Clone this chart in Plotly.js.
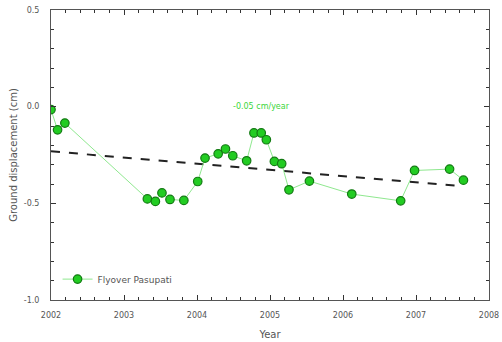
<!DOCTYPE html>
<html>
<head>
<meta charset="utf-8">
<script src="https://cdn.plot.ly/plotly-3.0.1.min.js"></script>
<style>html,body{margin:0;padding:0;background:#fff;}#chart{width:502px;height:342px;}</style>
</head>
<body>
<div id="chart"></div>
<script>
const years = [2002.00, 2002.09, 2002.19, 2003.32, 2003.43, 2003.52, 2003.63, 2003.82, 2004.01, 2004.11,
  2004.29, 2004.39, 2004.49, 2004.68, 2004.78, 2004.88, 2004.95, 2005.06, 2005.16, 2005.26,
  2005.54, 2006.12, 2006.79, 2006.98, 2007.46, 2007.65];
const displacement = [-0.015, -0.12, -0.085, -0.477, -0.49, -0.446, -0.48, -0.485, -0.387, -0.266,
  -0.244, -0.219, -0.254, -0.28, -0.136, -0.136, -0.171, -0.283, -0.295, -0.43,
  -0.385, -0.452, -0.487, -0.33, -0.323, -0.38];
const trendYears = [2002.0, 2007.59];
const trendValues = [-0.231, -0.41];
const seriesName = 'Flyover Pasupati';
const rateLabel = '-0.05 cm/year';
const xTicks = [2002, 2003, 2004, 2005, 2006, 2007, 2008];
const yTicks = [0.5, 0.0, -0.5, -1.0];
const yTickText = ['0.5', '0.0', '-0.5', '-1.0'];

const traces = [
  {
    x: trendYears, y: trendValues, mode: 'lines', showlegend: false, hoverinfo: 'skip',
    line: {color: '#222', width: 2, dash: 'dash'}
  },
  {
    x: years, y: displacement, mode: 'lines+markers', name: seriesName,
    line: {color: '#8fe88f', width: 1},
    marker: {color: '#22cc22', size: 8.5, line: {color: '#137a13', width: 1.2}}
  }
];

const axisCommon = {
  showline: true, mirror: 'ticks', linecolor: '#555', linewidth: 1,
  ticks: 'inside', ticklen: 5, tickcolor: '#333', tickwidth: 1,
  showgrid: false, zeroline: false,
  tickfont: {family: 'DejaVu Sans', size: 8, color: '#555'}
};

const layout = {
  width: 502, height: 342,
  margin: {l: 51, r: 13, t: 10, b: 42},
  paper_bgcolor: '#fff', plot_bgcolor: '#fff',
  font: {family: 'DejaVu Sans', color: '#555'},
  xaxis: Object.assign({}, axisCommon, {
    range: [2002, 2008], tickvals: xTicks, ticktext: xTicks.map(String),
    ticklabelstandoff: 7,
    minor: {dtick: 0.2, ticks: 'inside', ticklen: 3, tickcolor: '#333', showgrid: false},
    title: {text: 'Year', font: {family: 'DejaVu Sans', size: 10, color: '#555'}, standoff: 12}
  }),
  yaxis: Object.assign({}, axisCommon, {
    range: [-1.0, 0.5], tickvals: yTicks, ticktext: yTickText,
    ticklabelstandoff: 9,
    minor: {dtick: 0.1, ticks: 'inside', ticklen: 3, tickcolor: '#333', showgrid: false},
    title: {text: 'Ground displacement (cm)', font: {family: 'DejaVu Sans', size: 10, color: '#555'}, standoff: 4}
  }),
  legend: {
    x: 0.015, y: 0.072, xanchor: 'left', yanchor: 'middle',
    bgcolor: 'rgba(0,0,0,0)', font: {family: 'DejaVu Sans', size: 9, color: '#555'}
  },
  annotations: [{
    x: 2004.89, y: 0.0, xref: 'x', yref: 'y', text: rateLabel, showarrow: false,
    font: {family: 'DejaVu Sans', size: 8, color: '#3ad63a'}
  }]
};

Plotly.newPlot('chart', traces, layout, {staticPlot: true, displayModeBar: false});
</script>
</body>
</html>
